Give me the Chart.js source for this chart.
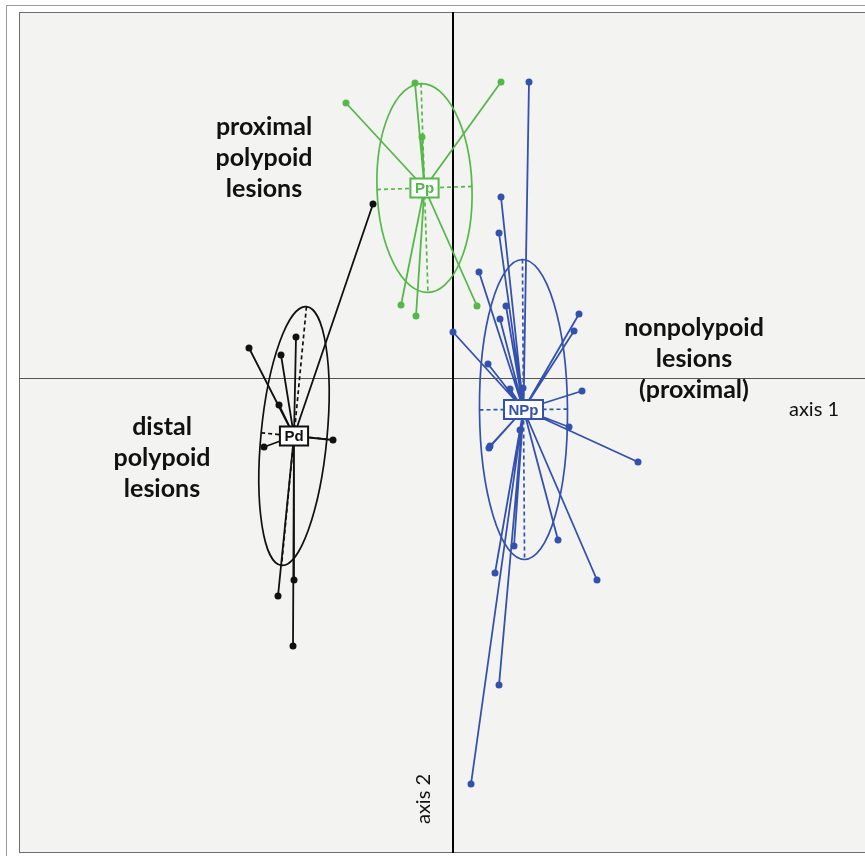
<!DOCTYPE html>
<html>
<head>
<meta charset="utf-8">
<script src="https://cdn.jsdelivr.net/npm/chart.js@4.4.0/dist/chart.umd.min.js"></script>
<style>
  html, body { margin: 0; padding: 0; background: #fff; }
  canvas { display: block; }
</style>
</head>
<body>
<canvas id="myChart" width="865" height="856"></canvas>
<script>
// group names, centroids and the individual lesion scores (axis 1, axis 2)
const groups = ['Pp', 'Pd', 'NPp'];

const ppCentre = [-0.285, 1.90];
const ppX = [-0.38, -1.07, 0.48, -0.31, -0.52, -0.37, 0.24];
const ppY = [2.95, 2.75, 2.96, 2.41, 0.73, 0.62, 0.72];

const pdCentre = [-1.59, -0.58];
const pdX = [-0.80, -2.04, -1.72, -1.57, -1.74, -1.89, -1.20, -1.59, -1.75, -1.60];
const pdY = [1.74, 0.30, 0.23, 0.41, -0.27, -0.69, -0.62, -2.02, -2.18, -2.68];

const nppCentre = [0.705, -0.315];
const nppX = [0.76, 0.48, 0.46, 0.26, 0.53, 0.47, 0.00, 0.35, 0.57, 0.70, 1.26, 1.21,
              1.29, 1.16, 1.85, 0.37, 0.36, 0.67, 1.05, 1.44, 0.61, 0.42, 0.46, 0.18];
const nppY = [2.96, 1.81, 1.45, 1.06, 0.72, 0.59, 0.46, 0.14, -0.11, -0.10, 0.64, 0.47,
              -0.13, -0.49, -0.84, -0.68, -0.70, -0.52, -1.62, -2.02, -1.68, -1.95, -3.07, -4.06];

// inertia ellipses: semi axis along axis 1, semi axis along axis 2, tilt in degrees
const ppEllipse = [0.475, 1.045, -1.9];
const pdEllipse = [0.33, 1.30, 5.5];
const nppEllipse = [0.44, 1.50, -0.4];

const colours = ['#55b848', '#111111', '#3451ae'];

const groupData = [
  { name: groups[0], c: ppCentre, x: ppX, y: ppY, e: ppEllipse, col: colours[0] },
  { name: groups[1], c: pdCentre, x: pdX, y: pdY, e: pdEllipse, col: colours[1] },
  { name: groups[2], c: nppCentre, x: nppX, y: nppY, e: nppEllipse, col: colours[2] }
];

const ctx = document.getElementById('myChart');

function starLines(g) {
  let out = [];
  g.x.forEach((v, i) => {
    out.push({ x: g.c[0], y: g.c[1] });
    out.push({ x: v, y: g.y[i] });
    out.push({ x: NaN, y: NaN });
  });
  return out;
}

function points(g) {
  return g.x.map((v, i) => ({ x: v, y: g.y[i] }));
}

let datasets = [];
groupData.forEach(g => {
  datasets.push({
    label: g.name + ' lines',
    data: starLines(g),
    showLine: true,
    spanGaps: false,
    borderColor: g.col,
    borderWidth: 1.8,
    pointRadius: 0
  });
  datasets.push({
    label: g.name,
    data: points(g),
    showLine: false,
    backgroundColor: g.col,
    borderColor: g.col,
    pointRadius: 3.5,
    pointBorderWidth: 0
  });
});

// plot frame + axes + ellipses
const frame = {
  id: 'frame',
  beforeDraw(chart) {
    const c = chart.ctx, a = chart.chartArea;
    c.save();
    c.fillStyle = '#fff';
    c.fillRect(0, 0, chart.width, chart.height);
    c.strokeStyle = '#9a9a9a';
    c.lineWidth = 1;
    c.strokeRect(6.5, 5.5, chart.width, chart.height - 1);
    c.fillStyle = '#f3f3f2';
    c.fillRect(a.left, a.top, a.right - a.left, a.bottom - a.top);
    c.strokeStyle = '#6e6e6e';
    c.strokeRect(a.left + 0.5, a.top + 0.5, a.right - a.left + 2, a.bottom - a.top - 1);
    c.restore();
  },
  beforeDatasetsDraw(chart) {
    const c = chart.ctx, a = chart.chartArea;
    const xs = chart.scales.x, ys = chart.scales.y;
    const x0 = xs.getPixelForValue(0), y0 = ys.getPixelForValue(0);
    c.save();
    c.strokeStyle = '#555';
    c.lineWidth = 1;
    c.beginPath();
    c.moveTo(a.left, y0 + 0.5);
    c.lineTo(a.right, y0 + 0.5);
    c.stroke();
    c.strokeStyle = '#000';
    c.lineWidth = 2;
    c.beginPath();
    c.moveTo(x0, a.top);
    c.lineTo(x0, a.bottom);
    c.stroke();

    groupData.forEach(g => {
      const cx = xs.getPixelForValue(g.c[0]);
      const cy = ys.getPixelForValue(g.c[1]);
      const rx = xs.getPixelForValue(g.c[0] + g.e[0]) - cx;
      const ry = cy - ys.getPixelForValue(g.c[1] + g.e[1]);
      const rot = g.e[2] * Math.PI / 180;
      c.strokeStyle = g.col;
      c.lineWidth = 1.7;
      c.setLineDash([]);
      c.beginPath();
      c.ellipse(cx, cy, rx, ry, rot, 0, Math.PI * 2);
      c.stroke();
      c.setLineDash([4, 3]);
      c.beginPath();
      c.moveTo(cx + ry * Math.sin(rot), cy - ry * Math.cos(rot));
      c.lineTo(cx - ry * Math.sin(rot), cy + ry * Math.cos(rot));
      c.moveTo(cx - rx * Math.cos(rot), cy - rx * Math.sin(rot));
      c.lineTo(cx + rx * Math.cos(rot), cy + rx * Math.sin(rot));
      c.stroke();
    });
    c.restore();
  },
  afterDatasetsDraw(chart) {
    const c = chart.ctx;
    const xs = chart.scales.x, ys = chart.scales.y;
    c.save();
    c.font = 'bold 15px "Liberation Sans", Arial, sans-serif';
    c.textAlign = 'center';
    c.textBaseline = 'middle';
    groupData.forEach(g => {
      const cx = xs.getPixelForValue(g.c[0]);
      const cy = ys.getPixelForValue(g.c[1]);
      const w = c.measureText(g.name).width + 9;
      const h = 19;
      c.fillStyle = '#fff';
      c.fillRect(cx - w / 2, cy - h / 2, w, h);
      c.strokeStyle = g.col;
      c.lineWidth = 2;
      c.strokeRect(cx - w / 2, cy - h / 2, w, h);
      c.fillStyle = g.col;
      c.fillText(g.name, cx, cy + 1);
    });

    // group captions
    c.fillStyle = '#111';
    c.font = 'bold 25px Lato, sans-serif';
    const captions = [
      { lines: ['proximal', 'polypoid', 'lesions'], x: 264, y: 127 },
      { lines: ['distal', 'polypoid', 'lesions'], x: 162, y: 427 },
      { lines: ['nonpolypoid', 'lesions', '(proximal)'], x: 694, y: 328 }
    ];
    captions.forEach(cap => {
      cap.lines.forEach((t, i) => c.fillText(t, cap.x, cap.y + i * 31));
    });

    c.font = '20px Lato, sans-serif';
    c.fillText('axis 1', 814, 410);
    c.translate(424, 799);
    c.rotate(-Math.PI / 2);
    c.fillText('axis 2', 0, 0);
    c.restore();
  }
};

new Chart(ctx, {
  type: 'scatter',
  data: { datasets: datasets },
  options: {
    responsive: false,
    animation: false,
    layout: { autoPadding: false, padding: { left: 19, top: 12, right: 0, bottom: 3 } },
    plugins: { legend: { display: false }, tooltip: { enabled: false } },
    scales: {
      x: { type: 'linear', display: false, min: (19 - 453) / 100, max: (865 - 453) / 100 },
      y: { type: 'linear', display: false, min: (378 - 853) / 100, max: (378 - 12) / 100 }
    }
  },
  plugins: [frame]
});
</script>
</body>
</html>
